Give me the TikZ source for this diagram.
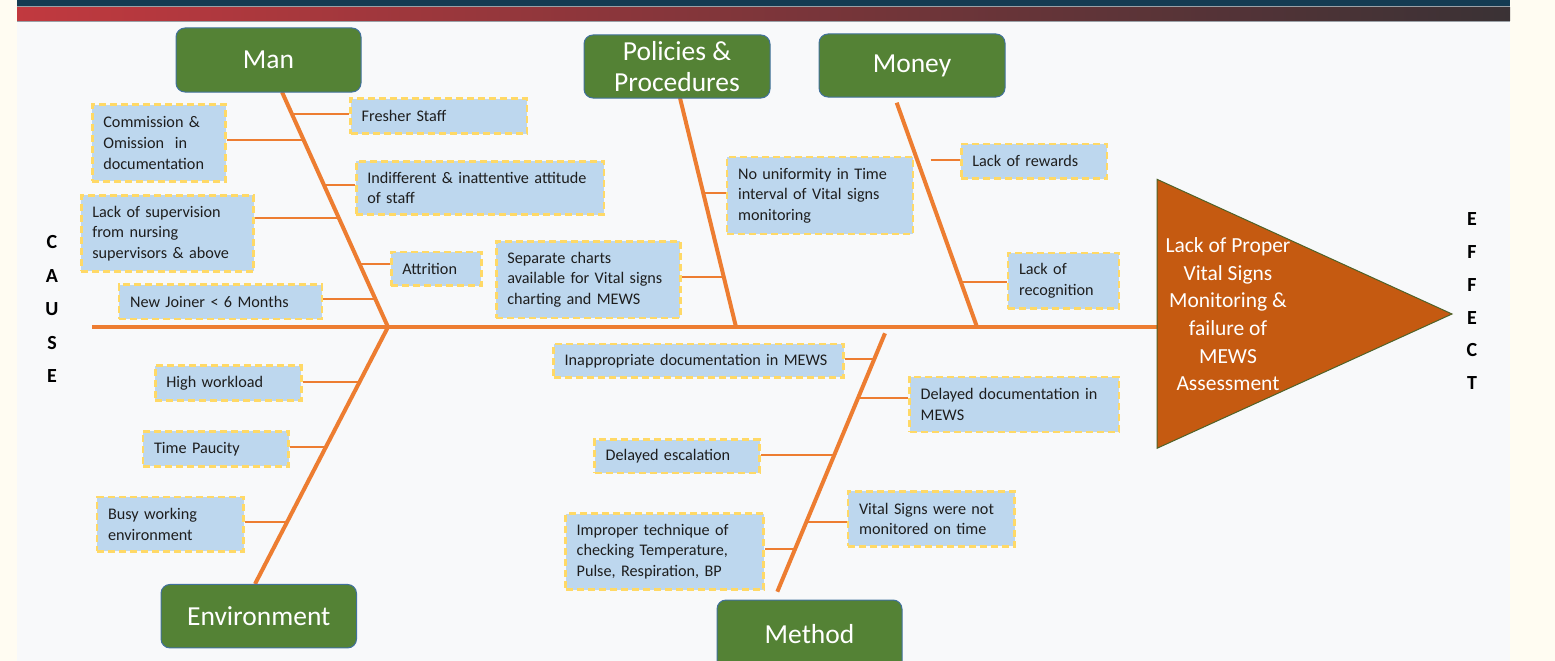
\documentclass[tikz,border=0pt]{standalone}
\usepackage{fontspec}
\setmainfont{Carlito}
\usetikzlibrary{calc}
\definecolor{cream}{HTML}{FFFCF2}
\definecolor{slide}{HTML}{F8F9FA}
\definecolor{navy}{HTML}{143B52}
\definecolor{barL}{HTML}{C1393F}
\definecolor{barM}{HTML}{873A3D}
\definecolor{barR}{HTML}{3A3235}
\definecolor{barline}{HTML}{9AA0A6}
\definecolor{catgreen}{HTML}{548235}
\definecolor{catedge}{HTML}{41719C}
\definecolor{bonecol}{HTML}{ED7D31}
\definecolor{boxfill}{HTML}{BDD7EE}
\definecolor{boxedge}{HTML}{FFD966}
\definecolor{effectfill}{HTML}{C55A11}
\definecolor{effectedge}{HTML}{4F6228}
\definecolor{boxtext}{HTML}{1E1E1E}
\pgfdeclarelayer{back}
\pgfdeclarelayer{lines}
\pgfsetlayers{back,lines,main}
\tikzset{
  cat/.style={draw=catedge, line width=1pt, fill=catgreen, rounded corners=9pt,
    text=white, font=\fontsize{27.5}{31}\selectfont, align=center, inner sep=0pt},
  causebx/.style={draw=boxedge, line width=2.7pt, dash pattern=on 7pt off 4pt,
    fill=boxfill, text=boxtext, font=\fontsize{16.2}{20.6}\selectfont, align=left,
    inner xsep=11pt, inner ysep=0pt, anchor=north west},
  bonel/.style={draw=bonecol, line width=4pt},
  spinel/.style={draw=bonecol, line width=3.5pt},
  twig/.style={draw=bonecol, line width=2pt},
  sidelet/.style={font=\bfseries\fontsize{20}{33.5}\selectfont, align=center, text=black},
}
\newcommand\causebox[6]{%
  \pgfmathsetmacro\cbtw{#4-#2-22}%
  \node[causebx, text width=\cbtw pt, minimum height={(#5-#3)*1pt}] (#1) at (#2,#3) {#6};}
\begin{document}
\begin{tikzpicture}[x=1pt,y=-1pt]
\useasboundingbox (0,0) rectangle (1555,661);
\begin{pgfonlayer}{back}
  \fill[cream] (0,0) rectangle (1555,661);
  \fill[slide] (17,0) rectangle (1510,661);
  \fill[navy] (17,0) rectangle (1510,6.5);
  \fill[barline] (17,6.5) rectangle (1510,7.8);
  \shade[left color=barL, middle color=barM, right color=barR] (17,7.8) rectangle (1510,21);
  \fill[barline] (17,21) rectangle (1510,22.3);
\end{pgfonlayer}

% category boxes
\node[cat, minimum width=185pt, minimum height=64pt] (man) at (268.5,60) {Man};
\node[cat, minimum width=186pt, minimum height=63pt] (pol) at (677,66.5) {Policies \&\\Procedures};
\node[cat, minimum width=186pt, minimum height=63pt] (mon) at (912,65.5) {Money};
\node[cat, minimum width=195.5pt, minimum height=63.5pt] (env) at (258.75,616.2) {Environment};
\node[cat, minimum width=185pt, minimum height=70pt] (met) at (809.5,635) {\raisebox{3pt}{Method}};

% cause boxes
\causebox{fresh}{349.3}{97.3}{525.7}{132.3}{Fresher Staff}
\causebox{comm}{91}{103.3}{224.3}{180}{Commission \&\\Omission\ \ in\\documentation}
\causebox{indiff}{355}{160}{602.7}{213.3}{Indifferent \& inattentive attitude\\of staff}
\causebox{sup}{80}{194}{252.3}{270}{Lack of supervision\\from nursing\\supervisors \& above}
\causebox{attr}{390}{250.7}{480}{284.3}{Attrition}
\causebox{newj}{117.7}{283.3}{320.7}{317.7}{New Joiner < 6 Months}
\causebox{sep}{495}{240}{679}{316.7}{Separate charts\\available for Vital signs\\charting and MEWS}
\causebox{nouni}{725.7}{155.7}{911.7}{232.7}{No uniformity in Time\\interval of Vital signs\\monitoring}
\causebox{rew}{960}{142.7}{1105.7}{177.3}{Lack of rewards}
\causebox{recog}{1006.7}{251.7}{1117.7}{307.3}{Lack of\\recognition}
\causebox{high}{154}{364.3}{300}{399.3}{High workload}
\causebox{time}{141.7}{430}{287.3}{465}{Time Paucity}
\causebox{busy}{95.7}{495.7}{242.3}{550}{Busy working\\environment}
\causebox{inap}{552.3}{342.7}{842.3}{376}{Inappropriate documentation in MEWS}
\causebox{deldoc}{908.3}{375.7}{1117.7}{430.7}{Delayed documentation in\\MEWS}
\causebox{delesc}{593.3}{438.3}{758.3}{471.7}{Delayed escalation}
\causebox{vsnot}{846.7}{490}{1013.3}{545}{Vital Signs were not\\monitored on time}
\causebox{improp}{564.3}{512.3}{762.3}{588.3}{Improper technique of\\checking Temperature,\\Pulse, Respiration, BP}

% effect triangle
\coordinate (tA) at (1157,179.3);
\coordinate (tB) at (1157,448.3);
\coordinate (tC) at (1452,314);
\coordinate (triL) at (1157,327);
\draw[effectedge, fill=effectfill, line width=1pt] (tA) -- (tC) -- (tB) -- cycle;
\node[text=white, font=\fontsize{21.5}{27.6}\selectfont, align=center] (effect) at (1228,314.3)
  {Lack of Proper\\Vital Signs\\Monitoring \&\\failure of\\MEWS\\Assessment};

\node[sidelet] (causelbl) at (52,309) {C\\A\\U\\S\\E};
\node[sidelet, font=\bfseries\fontsize{20}{32.8}\selectfont] (effectlbl) at (1472,301.3) {E\\F\\F\\E\\C\\T};

% bone coordinates
\coordinate (spL) at (92,327);
\coordinate (J1) at (388,327);
\coordinate (J2) at (736,327);
\coordinate (J3) at (977,327);
\coordinate (manTop) at (282,92);
\coordinate (polTop) at (680,98);
\coordinate (monTop) at (896.7,102.7);
\coordinate (envBot) at (255,584);
\coordinate (metTop) at (885,333.3);
\coordinate (metBot) at (777.3,591.7);

% twig points on bones
\coordinate (b1) at (291.9,114);
\coordinate (b2) at (303.6,140);
\coordinate (b3) at (324,185);
\coordinate (b4) at (339,218.3);
\coordinate (b5) at (359.6,264);
\coordinate (b6) at (375.5,299.3);
\coordinate (b7) at (723.7,276.7);
\coordinate (b8) at (703.3,193.3);
\coordinate (b9) at (930.7,160);
\coordinate (b10) at (960.8,281.7);
\coordinate (b11) at (359.7,381.7);
\coordinate (b12) at (326,446.7);
\coordinate (b13) at (286.9,522.3);
\coordinate (b14) at (874.3,359);
\coordinate (b15) at (858.2,397.7);
\coordinate (b16) at (834.3,455);
\coordinate (b17) at (806.5,521.7);
\coordinate (b18) at (795.1,549);

\begin{pgfonlayer}{lines}
  \draw[spinel] (spL) -- (triL);
  \draw[bonel] (manTop) -- (J1);
  \draw[bonel] (polTop) -- (J2);
  \draw[bonel] (monTop) -- (J3);
  \draw[bonel] (envBot) -- (J1);
  \draw[bonel] (metBot) -- (metTop);
  \draw[twig] (b1) -- (b1 -| fresh.west);
  \draw[twig] (b2) -- (b2 -| comm.east);
  \draw[twig] (b3) -- (b3 -| indiff.west);
  \draw[twig] (b4) -- (b4 -| sup.east);
  \draw[twig] (b5) -- (b5 -| attr.west);
  \draw[twig] (b6) -- (b6 -| newj.east);
  \draw[twig] (b7) -- (b7 -| sep.east);
  \draw[twig] (b8) -- (b8 -| nouni.west);
  \draw[twig] (b9) -- (b9 -| rew.west);
  \draw[twig] (b10) -- (b10 -| recog.west);
  \draw[twig] (b11) -- (b11 -| high.east);
  \draw[twig] (b12) -- (b12 -| time.east);
  \draw[twig] (b13) -- (b13 -| busy.east);
  \draw[twig] (b14) -- (b14 -| inap.east);
  \draw[twig] (b15) -- (b15 -| deldoc.west);
  \draw[twig] (b16) -- (b16 -| delesc.east);
  \draw[twig] (b17) -- (b17 -| vsnot.west);
  \draw[twig] (b18) -- (b18 -| improp.east);
\end{pgfonlayer}
\end{tikzpicture}
\end{document}
